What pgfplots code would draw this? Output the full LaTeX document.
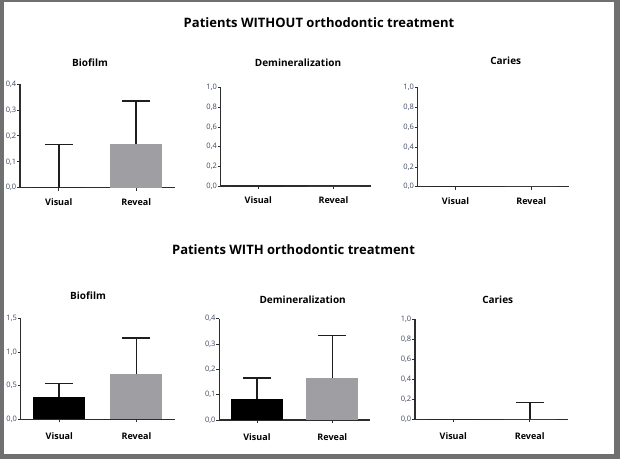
\documentclass[border=0pt]{standalone}
\usepackage{fontspec}
\setmainfont{Open Sans}
\usepackage{pgfplots}
\pgfplotsset{compat=1.18}

\definecolor{framegray}{RGB}{112,112,112}
\definecolor{ticktext}{RGB}{62,72,96}
\definecolor{axisline}{RGB}{45,45,45}
\definecolor{revealgray}{RGB}{158,158,163}
\definecolor{errline}{RGB}{30,30,30}

\pgfplotsset{
  panel/.style={
    scale only axis,
    anchor=south west,
    axis x line=bottom, axis y line=left,
    axis line style={-, line width=1.1pt, draw=axisline},
    xmin=-0.5, xmax=1.5, ymin=0,
    xtick={0,1}, xticklabels={Visual,Reveal},
    tick align=outside,
    major tick length=3pt,
    every tick/.style={axisline, line width=0.8pt},
    x tick label style={font=\bfseries\fontsize{9}{10}\selectfont, text=black},
    y tick label style={font=\fontsize{7.5}{8}\selectfont, text=ticktext, inner sep=0.6pt},
    /pgf/number format/assume math mode=true,
    /pgf/number format/use comma,
    /pgf/number format/fixed,
    /pgf/number format/fixed zerofill,
    /pgf/number format/precision=1,
    clip=false,
  },
  toprow/.style={x tick label style={yshift=-4.5pt}},
  bottomrow/.style={x tick label style={yshift=-7pt}},
  bar/.style={ybar, bar width=52pt, bar shift=0pt, draw=none},
  err/.style={error bars/.cd, y dir=plus, y explicit,
    error bar style={line width=1.6pt, errline},
    error mark options={rotate=90, mark size=14pt, line width=1.6pt, errline}},
}

\begin{document}
\begin{tikzpicture}[x=1pt, y=1pt]
  % frame
  \fill[framegray] (0,0) rectangle (620,459);
  \fill[white] (4,5) rectangle (614,457);

  % group titles
  \node[font=\bfseries\fontsize{13}{15}\selectfont, inner sep=0] at (319,436.3) {Patients WITHOUT orthodontic treatment};
  \node[font=\bfseries\fontsize{13}{15}\selectfont, inner sep=0] at (293.5,209.7) {Patients WITH orthodontic treatment};

  % panel titles
  \begin{scope}[every node/.style={font=\bfseries\fontsize{10}{12}\selectfont, inner sep=0}]
    \node at (90,396.3) {Biofilm};
    \node at (298,396.3) {Demineralization};
    \node at (505.7,398) {Caries};
    \node at (88,163.3) {Biofilm};
    \node at (302.7,159.7) {Demineralization};
    \node at (497.7,159.7) {Caries};
  \end{scope}

  % --- without orthodontic treatment ---
  \begin{axis}[panel, toprow, at={(20pt,271.3pt)}, width=155pt, height=103.7pt,
      ymax=0.4, ytick={0,0.1,0.2,0.3,0.4}]
    \addplot[bar, fill=black, err] coordinates {(0,0) +- (0,0.167)};
    \addplot[bar, fill=revealgray, err] coordinates {(1,0.167) +- (0,0.167)};
  \end{axis}

  \begin{axis}[panel, toprow, at={(220.7pt,273pt)}, width=150.3pt, height=98.3pt,
      ymax=1, ytick={0,0.2,0.4,0.6,0.8,1}]
    \addplot[bar, fill=black] coordinates {(0,0)};
    \addplot[bar, fill=revealgray] coordinates {(1,0)};
  \end{axis}

  \begin{axis}[panel, toprow, at={(417.7pt,272.3pt)}, width=151.3pt, height=99pt,
      ymax=1, ytick={0,0.2,0.4,0.6,0.8,1}]
    \addplot[bar, fill=black] coordinates {(0,0)};
    \addplot[bar, fill=revealgray] coordinates {(1,0)};
  \end{axis}

  % --- with orthodontic treatment ---
  \begin{axis}[panel, bottomrow, at={(20.7pt,39.7pt)}, width=154.3pt, height=101pt,
      ymax=1.5, ytick={0,0.5,1,1.5}]
    \addplot[bar, fill=black, err] coordinates {(0,0.333) +- (0,0.2)};
    \addplot[bar, fill=revealgray, err] coordinates {(1,0.667) +- (0,0.54)};
  \end{axis}

  \begin{axis}[panel, bottomrow, at={(219.3pt,39pt)}, width=150.7pt, height=101.3pt,
      ymax=0.4, ytick={0,0.1,0.2,0.3,0.4}]
    \addplot[bar, fill=black, err] coordinates {(0,0.083) +- (0,0.083)};
    \addplot[bar, fill=revealgray, err] coordinates {(1,0.167) +- (0,0.167)};
  \end{axis}

  \begin{axis}[panel, bottomrow, at={(415pt,39.7pt)}, width=153pt, height=100.3pt,
      ymax=1, ytick={0,0.2,0.4,0.6,0.8,1}]
    \addplot[bar, fill=black] coordinates {(0,0)};
    \addplot[bar, fill=revealgray, err] coordinates {(1,0) +- (0,0.167)};
  \end{axis}
\end{tikzpicture}
\end{document}
